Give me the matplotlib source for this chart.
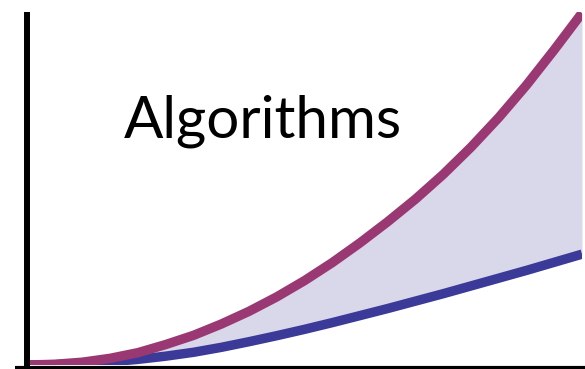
import matplotlib
matplotlib.use("Agg")
import matplotlib.pyplot as plt
from matplotlib.lines import Line2D

# Data (normalised units)
x_vals = [0, .05, .1, .15, .2, .25, .3, .35, .4, .45, .5, .55, .6, .65, .7, .75, .8, .85, .9, .95, 1.0]
upper_vals = [0, .002, .008, .019, .035, .058, .084, .116, .152, .193, .239, .29, .346, .406, .47, .54, .617, .701, .793, .893, .997]
lower_vals = [0, .001, .004, .009, .016, .025, .036, .05, .066, .083, .101, .12, .14, .16, .181, .202, .224, .246, .268, .291, .314]
title_text = "Algorithms"

W, H = 585, 369
fig = plt.figure(figsize=(W / 100, H / 100), dpi=100)
fig.patch.set_facecolor("white")

left_px, right_px, top_px, bottom_px = 27, 582, 12, 365
ax = fig.add_axes([left_px / W, (H - bottom_px) / H, (right_px - left_px) / W, (bottom_px - top_px) / H])
ax.set_xlim(0, 1)
ax.set_ylim(0, 1)
ax.set_axis_off()

purple = "#9a3874"
blue = "#3c3a98"
fill = "#d8d8ea"

ax.fill_between(x_vals, lower_vals, upper_vals, color=fill, lw=0, zorder=1)
ax.plot(x_vals, lower_vals, color=blue, lw=6.8, solid_capstyle="butt", solid_joinstyle="round", zorder=2)
ax.plot(x_vals, upper_vals, color=purple, lw=6.8, solid_capstyle="butt", solid_joinstyle="round", zorder=3)

# axis lines
fig.add_artist(Line2D([26.5 / W, 26.5 / W], [(H - 12) / H, 0], color="black", lw=4.3, solid_capstyle="butt"))
fig.add_artist(Line2D([15 / W, 1.0], [(H - 367.8) / H, (H - 367.8) / H], color="black", lw=3.0, solid_capstyle="butt"))

t = fig.text(124 / W, (H - 138) / H, title_text, fontsize=46, family=["Lato", "DejaVu Sans"],
             color="black", ha="left", va="baseline")
fig.canvas.draw()
bb = t.get_window_extent()
target_w = 278
t.set_fontsize(46 * target_w / bb.width)

fig.savefig("out.png", dpi=100, facecolor="white")
